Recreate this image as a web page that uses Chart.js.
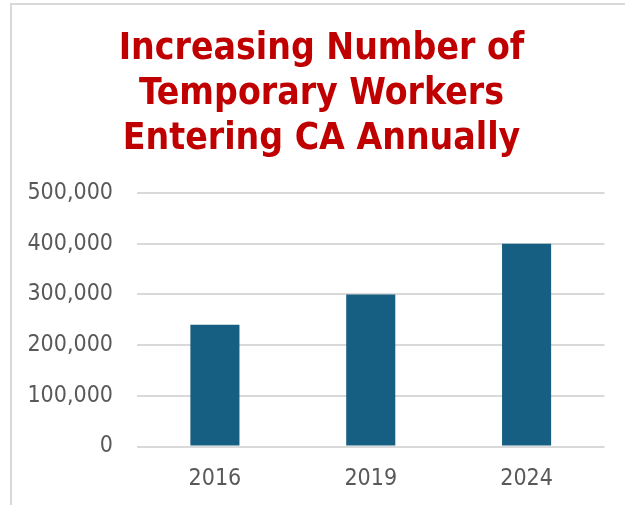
<!DOCTYPE html>
<html>
<head>
<meta charset="utf-8">
<script src="https://cdn.jsdelivr.net/npm/chart.js@4"></script>
<style>
  html, body { margin: 0; padding: 0; background: #fff; overflow: hidden; }
  #frame {
    position: absolute; left: 10px; top: 3px; width: 700px; height: 600px;
    border-left: 2px solid #d9d9d9; border-top: 2px solid #d9d9d9;
  }
  #wrap { position: absolute; left: 0; top: 0; width: 625px; height: 505px; }
</style>
</head>
<body>
<div id="frame"></div>
<div id="wrap"><canvas id="myChart" width="625" height="505"></canvas></div>
<script>
const years = ['2016', '2019', '2024']
const workers = [240000, 300000, 400000]
const yTicks = [0, 100000, 200000, 300000, 400000, 500000]

const titleLines = [
  'Increasing Number of',
  'Temporary Workers',
  'Entering CA Annually'
]

const fontName = "'DejaVu Sans Condensed', 'DejaVu Sans', sans-serif"

var ctx = document.getElementById('myChart').getContext('2d')
var myBarChart = new Chart(ctx, {
  type: 'bar',
  data: {
    labels: years,
    datasets: [{
      data: workers,
      backgroundColor: '#175f82',
      barPercentage: 0.315,
      categoryPercentage: 1
    }]
  },
  options: {
    responsive: false,
    animation: false,
    layout: {
      padding: { left: 18, right: 0, top: 0, bottom: 0 }
    },
    plugins: {
      legend: { display: false },
      tooltip: { enabled: false },
      title: {
        display: true,
        text: titleLines,
        color: '#c00000',
        font: { family: fontName, size: 37, weight: 'bold', lineHeight: '45px' },
        padding: { top: 27, bottom: 31 }
      }
    },
    scales: {
      x: {
        grid: { display: false, drawTicks: false },
        border: { display: false },
        ticks: {
          color: '#595959',
          font: { family: fontName, size: 23 },
          padding: 19
        },
        afterFit: function (scale) { scale.height = 58.5 }
      },
      y: {
        min: 0,
        max: 500000,
        afterBuildTicks: function (scale) {
          scale.ticks = yTicks.map(v => ({ value: v }))
        },
        grid: { color: '#d9d9d9', lineWidth: 2, drawTicks: false },
        border: { display: false },
        ticks: {
          color: '#595959',
          font: { family: fontName, size: 23 },
          padding: 24,
          callback: v => v.toLocaleString('en-US')
        },
        afterFit: function (scale) { scale.width = 119 }
      },
      // empty right-hand margin so the plot ends where the reference does
      yRight: {
        position: 'right',
        min: 0,
        max: 500000,
        grid: { display: false, drawTicks: false },
        border: { display: false },
        ticks: { display: false },
        afterFit: function (scale) { scale.width = 20.5 }
      }
    }
  }
})
</script>
</body>
</html>
